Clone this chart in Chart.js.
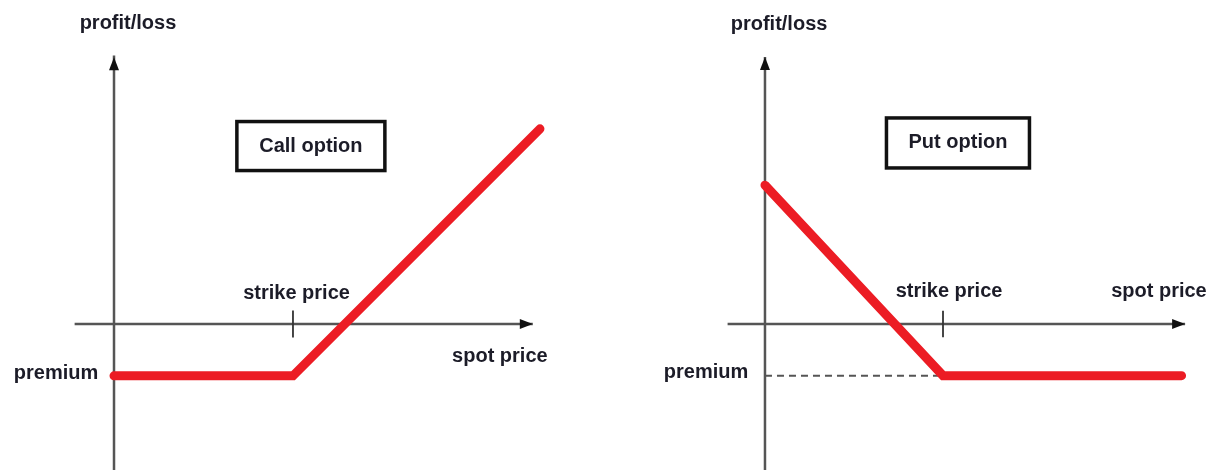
<!DOCTYPE html>
<html>
<head>
<meta charset="utf-8">
<script src="https://cdn.jsdelivr.net/npm/chart.js@4.4.1/dist/chart.umd.min.js"></script>
<style>
  html, body { margin: 0; padding: 0; background: #fff; }
  .panel { position: absolute; top: 0; width: 606px; height: 470px; }
  #leftPanel { left: 0; }
  #rightPanel { left: 606px; }
</style>
</head>
<body>
<div class="panel" id="leftPanel"><canvas id="callChart"></canvas></div>
<div class="panel" id="rightPanel"><canvas id="putChart"></canvas></div>
<script>
// payoff values (strike = 100 units, premium = 29 units)
const strike = 100;
const premium = 29;

const callSpot = [0, 100, 238];
const callPnl = [-29, -29, 109];

const putSpot = [0, 100, 234];
const putPnl = [78, -29, -29];

// axis extents (spot price / profit-loss units)
const callXAxis = [-22, 234];
const putXAxis = [-21, 236];
const yAxisRange = [-90, 150];
const tickHalf = 7.5;

const RED = "#ec1c24";
const AXIS = "#555555";
const TEXT = "#1c1c28";
const FONT = "bold 20px 'Liberation Sans', Arial, sans-serif";

function toPoints(xs, ys) {
  return xs.map((x, i) => ({ x: x, y: ys[i] }));
}

// arrowheads, labels, boxes
const decorPlugin = {
  id: "decor",
  afterDatasetsDraw(chart, args, opts) {
    const ctx = chart.ctx;
    const xs = chart.scales.x;
    const ys = chart.scales.y;
    ctx.save();
    ctx.fillStyle = "#111";
    // y-axis arrow
    let tx = xs.getPixelForValue(0), ty = ys.getPixelForValue(opts.yTop);
    ctx.beginPath();
    ctx.moveTo(tx, ty);
    ctx.lineTo(tx - 5, ty + 13);
    ctx.lineTo(tx + 5, ty + 13);
    ctx.closePath();
    ctx.fill();
    // x-axis arrow
    tx = xs.getPixelForValue(opts.xEnd); ty = ys.getPixelForValue(0);
    ctx.beginPath();
    ctx.moveTo(tx, ty);
    ctx.lineTo(tx - 13, ty - 5);
    ctx.lineTo(tx - 13, ty + 5);
    ctx.closePath();
    ctx.fill();

    // title box
    const b = opts.box;
    const bx = xs.getPixelForValue(b.x), by = ys.getPixelForValue(b.y);
    ctx.fillStyle = "#fff";
    ctx.fillRect(bx - b.w / 2, by - b.h / 2, b.w, b.h);
    ctx.lineWidth = 3.5;
    ctx.strokeStyle = "#111";
    ctx.strokeRect(bx - b.w / 2, by - b.h / 2, b.w, b.h);

    ctx.font = FONT;
    ctx.fillStyle = TEXT;
    ctx.textAlign = "center";
    ctx.textBaseline = "middle";
    ctx.fillText(b.text, bx, by);
    opts.labels.forEach((l) => {
      ctx.fillText(l.text, xs.getPixelForValue(l.x), ys.getPixelForValue(l.y));
    });
    ctx.restore();
  },
};

function makeChart(id, spot, pnl, xAxis, scaleX, scaleY, extra, decor) {
  const datasets = [
    {
      data: toPoints(spot, pnl),
      borderColor: RED,
      borderWidth: 9,
      borderCapStyle: "round",
      borderJoinStyle: "miter",
      clip: false,
      order: 0,
    },
    {
      data: toPoints(xAxis, [0, 0]),
      borderColor: AXIS,
      borderWidth: 2.5,
      order: 3,
    },
    {
      data: toPoints([0, 0], yAxisRange),
      borderColor: AXIS,
      borderWidth: 2.5,
      order: 3,
    },
    {
      data: toPoints([strike, strike], [-tickHalf, tickHalf]),
      borderColor: "#333",
      borderWidth: 1.8,
      order: 2,
    },
  ].concat(extra);

  return new Chart(document.getElementById(id), {
    type: "line",
    data: { datasets: datasets },
    options: {
      responsive: true,
      maintainAspectRatio: false,
      animation: false,
      layout: { padding: 0 },
      elements: { point: { radius: 0 }, line: { tension: 0 } },
      scales: {
        x: { type: "linear", display: false, min: scaleX[0], max: scaleX[1] },
        y: { type: "linear", display: false, min: scaleY[0], max: scaleY[1] },
      },
      plugins: {
        legend: { display: false },
        tooltip: { enabled: false },
        decor: decor,
      },
    },
    plugins: [decorPlugin],
  });
}

makeChart(
  "callChart",
  callSpot,
  callPnl,
  callXAxis,
  [-63.7, 274.9],
  [-81.6, 181.0],
  [],
  {
    yTop: 149,
    xEnd: callXAxis[1],
    box: { text: "Call option", x: 110, y: 99.4, w: 148, h: 49 },
    labels: [
      { text: "profit/loss", x: 7.8, y: 167.6 },
      { text: "strike price", x: 102, y: 17.3 },
      { text: "spot price", x: 215.6, y: -18.4 },
      { text: "premium", x: -32.4, y: -27.4 },
    ],
  }
);

makeChart(
  "putChart",
  putSpot,
  putPnl,
  putXAxis,
  [-89.3, 251.1],
  [-82.0, 182.0],
  [
    {
      data: toPoints([0, strike], [-premium, -premium]),
      borderColor: "#555",
      borderWidth: 2,
      borderDash: [7, 5],
      order: 1,
    },
  ],
  {
    yTop: 150,
    xEnd: putXAxis[1],
    box: { text: "Put option", x: 108.4, y: 101.7, w: 143, h: 50 },
    labels: [
      { text: "profit/loss", x: 7.9, y: 168.5 },
      { text: "strike price", x: 103.4, y: 18 },
      { text: "spot price", x: 221.3, y: 18 },
      { text: "premium", x: -33.1, y: -27 },
    ],
  }
);
</script>
</body>
</html>
